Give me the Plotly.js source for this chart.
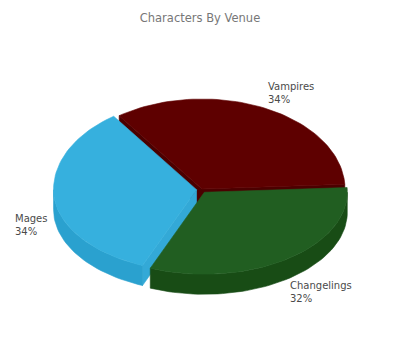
<!DOCTYPE html>
<html>
<head>
<meta charset="utf-8">
<script src="https://cdn.plot.ly/plotly-3.0.1.min.js"></script>
<style>
  html, body { margin: 0; padding: 0; background: #ffffff; }
  #chart { width: 400px; height: 350px; }
</style>
</head>
<body>
<div id="chart"></div>
<script>
// Characters by venue
const venues = ['Vampires', 'Changelings', 'Mages'];
const shares = [34, 32, 34];

// Slice styling (top face, outer rim, radial cut face)
const topColors  = ['#5e0000', '#215e21', '#36b0de'];
const rimColors  = ['#4a0000', '#184c15', '#2aa1cf'];
const cutColors  = ['#4b0000', '#1b5018', '#33a9d7'];
const explode    = [0, 4, 5.5];         // px pulled out along the slice's mid angle
const labelSpots = [[266, 79], [288, 278], [13, 211]]; // label anchors (left/top)

// Tilted-disc geometry, in pixel-sized axis units
const CX = 202, CY = 189;
const RX = 143, RY_BACK = 90, RY_FRONT = 82;
const DEPTH = 20;
const END_OF_FIRST = -3; // first slice ends just above 3 o'clock

const deg = Math.PI / 180;
const total = shares.reduce((a, b) => a + b, 0);

function rimPoint(cx, cy, th) {
  const s = Math.sin(th * deg);
  const ry = s < 0 ? RY_BACK : RY_FRONT;
  return [cx + RX * Math.cos(th * deg), cy + ry * s];
}

function arc(cx, cy, a, b, dy) {
  const pts = [];
  const n = Math.max(2, Math.ceil(Math.abs(b - a) / 2));
  for (let i = 0; i <= n; i++) {
    const th = a + (b - a) * i / n;
    const p = rimPoint(cx, cy, th);
    pts.push([p[0], p[1] + dy]);
  }
  return pts;
}

function poly(pts, color, layer) {
  const xs = pts.map(p => p[0]);
  const ys = pts.map(p => p[1]);
  xs.push(xs[0]); ys.push(ys[0]);
  return {
    type: 'scatter', mode: 'lines', x: xs, y: ys,
    fill: 'toself', fillcolor: color,
    line: { color: color, width: 0.6 },
    hoverinfo: 'skip', showlegend: false, _layer: layer
  };
}

// Angular extents of each slice
const slices = [];
let start = END_OF_FIRST - 360 * shares[0] / total;
shares.forEach((v, i) => {
  const sweep = 360 * v / total;
  const a = start, b = start + sweep;
  const mid = (a + b) / 2;
  const cx = CX + explode[i] * Math.cos(mid * deg);
  const cy = CY + explode[i] * Math.sin(mid * deg);
  slices.push({ i, a, b, mid, cx, cy });
  start = b;
});

const sides = [];
const tops = [];
slices.forEach(s => {
  // outer rim: only the part facing the viewer (front half)
  const lo = Math.max(s.a, 0), hi = Math.min(s.b, 180);
  const lo2 = Math.max(s.a, 360), hi2 = Math.min(s.b, 540);
  [[lo, hi], [lo2, hi2]].forEach(([p, q]) => {
    if (q > p) {
      const upper = arc(s.cx, s.cy, p, q, 0);
      const lower = arc(s.cx, s.cy, p, q, DEPTH).reverse();
      sides.push(poly(upper.concat(lower), rimColors[s.i], 1));
    }
  });
  // radial cut faces, drawn when their normal points toward the viewer
  const faces = [
    { th: s.a, ny: -Math.cos(s.a * deg) },
    { th: s.b, ny:  Math.cos(s.b * deg) }
  ];
  faces.forEach(f => {
    if (f.ny > 0) {
      const r = rimPoint(s.cx, s.cy, f.th);
      sides.push(poly([
        [s.cx, s.cy], r, [r[0], r[1] + DEPTH], [s.cx, s.cy + DEPTH]
      ], cutColors[s.i], 0));
    }
  });
  // top face
  const edge = arc(s.cx, s.cy, s.a, s.b, 0);
  tops.push(poly([[s.cx, s.cy]].concat(edge), topColors[s.i], 2));
});

sides.sort((p, q) => p._layer - q._layer);
const traces = sides.concat(tops).map(t => { delete t._layer; return t; });

const annotations = slices.map(s => ({
  x: labelSpots[s.i][0], y: labelSpots[s.i][1],
  xref: 'x', yref: 'y', xanchor: 'left', yanchor: 'top',
  align: 'left', showarrow: false,
  text: venues[s.i] + '<br>' + Math.round(100 * shares[s.i] / total) + '%',
  font: { family: 'DejaVu Sans, Verdana, sans-serif', size: 10, color: '#4a4a4a' }
}));

const layout = {
  width: 400, height: 350,
  margin: { l: 0, r: 0, t: 0, b: 0 },
  paper_bgcolor: '#ffffff', plot_bgcolor: '#ffffff',
  title: {
    text: 'Characters By Venue',
    font: { family: 'DejaVu Sans, Verdana, sans-serif', size: 11.5, color: '#777777' },
    x: 0.5, xanchor: 'center', y: 1 - 18 / 350, yanchor: 'middle'
  },
  xaxis: { range: [0, 400], visible: false, fixedrange: true },
  yaxis: { range: [350, 0], visible: false, fixedrange: true },
  showlegend: false,
  annotations: annotations
};

Plotly.newPlot('chart', traces, layout, { displayModeBar: false, staticPlot: true });
</script>
</body>
</html>
